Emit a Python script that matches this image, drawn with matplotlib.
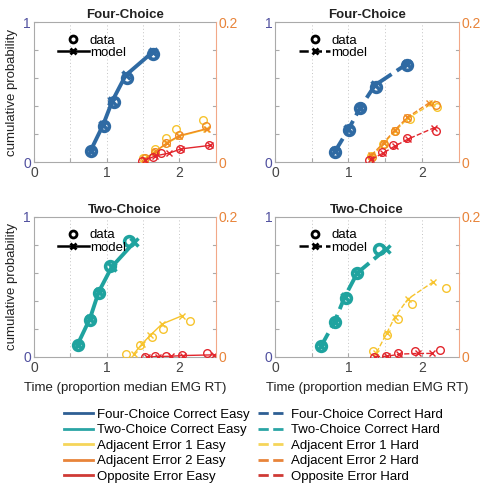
import matplotlib.pyplot as plt
from matplotlib.lines import Line2D

plt.rcParams['font.family'] = ['Liberation Sans', 'DejaVu Sans']

# colours
BLUE = '#2f6aa3'
TEAL = '#1fa39f'
YELLOW = '#f7c42e'
ORANGE = '#f08a22'
RED = '#e2262d'

# Four-Choice Easy (top left)
fe_cor_dx = [0.78, 0.96, 1.10, 1.28, 1.64]
fe_cor_dy = [0.083, 0.26, 0.43, 0.60, 0.77]
fe_cor_mx = [0.78, 0.95, 1.08, 1.26, 1.64]
fe_cor_my = [0.083, 0.265, 0.44, 0.62, 0.79]
fe_adj1_dx = [1.50, 1.66, 1.81, 1.95, 2.33]
fe_adj1_dy = [0.0067, 0.019, 0.034, 0.047, 0.060]
fe_adj1_mx = [1.51, 1.67, 1.83, 2.00, 2.37]
fe_adj1_my = [0.004, 0.015, 0.027, 0.037, 0.047]
fe_adj2_dx = [1.52, 1.67, 1.82, 1.99, 2.36]
fe_adj2_dy = [0.0057, 0.015, 0.028, 0.039, 0.051]
fe_adj2_mx = [1.52, 1.68, 1.83, 2.00, 2.38]
fe_adj2_my = [0.004, 0.016, 0.028, 0.038, 0.048]
fe_opp_dx = [1.48, 1.63, 1.75, 2.01, 2.40]
fe_opp_dy = [0.001, 0.008, 0.013, 0.019, 0.025]
fe_opp_mx = [1.53, 1.67, 1.86, 2.02, 2.42]
fe_opp_my = [0.003, 0.009, 0.013, 0.019, 0.024]

# Four-Choice Hard (top right)
fh_cor_dx = [0.82, 1.01, 1.16, 1.37, 1.79]
fh_cor_dy = [0.076, 0.23, 0.385, 0.54, 0.695]
fh_cor_mx = [0.82, 1.00, 1.16, 1.36, 1.79]
fh_cor_my = [0.08, 0.235, 0.39, 0.55, 0.70]
fh_adj1_dx = [1.31, 1.47, 1.63, 1.83, 2.20]
fh_adj1_dy = [0.009, 0.026, 0.045, 0.061, 0.079]
fh_adj1_mx = [1.32, 1.48, 1.63, 1.81, 2.14]
fh_adj1_my = [0.008, 0.027, 0.044, 0.063, 0.084]
fh_adj2_dx = [1.32, 1.48, 1.63, 1.80, 2.19]
fh_adj2_dy = [0.008, 0.026, 0.045, 0.063, 0.082]
fh_adj2_mx = [1.31, 1.48, 1.63, 1.80, 2.10]
fh_adj2_my = [0.010, 0.028, 0.046, 0.064, 0.085]
fh_opp_dx = [1.28, 1.45, 1.60, 1.79, 2.19]
fh_opp_dy = [0.003, 0.014, 0.025, 0.034, 0.045]
fh_opp_mx = [1.31, 1.47, 1.63, 1.81, 2.16]
fh_opp_my = [0.004, 0.013, 0.023, 0.033, 0.049]

# Two-Choice Easy (bottom left)
te_cor_dx = [0.60, 0.77, 0.89, 1.05, 1.31]
te_cor_dy = [0.088, 0.267, 0.457, 0.648, 0.826]
te_cor_mx = [0.60, 0.77, 0.89, 1.07, 1.38]
te_cor_my = [0.088, 0.274, 0.464, 0.643, 0.82]
te_adj1_dx = [1.26, 1.46, 1.62, 1.77, 2.15]
te_adj1_dy = [0.004, 0.017, 0.029, 0.040, 0.052]
te_adj1_mx = [1.37, 1.48, 1.60, 1.76, 2.04]
te_adj1_my = [0.004, 0.018, 0.031, 0.047, 0.059]
te_opp_dx = [1.52, 1.66, 1.82, 2.03, 2.38]
te_opp_dy = [0.0, 0.001, 0.002, 0.003, 0.005]
te_opp_mx = [1.55, 1.70, 1.88, 2.05, 2.48]
te_opp_my = [0.0, 0.0005, 0.001, 0.002, 0.003]

# Two-Choice Hard (bottom right)
th_cor_dx = [0.63, 0.82, 0.96, 1.11, 1.42]
th_cor_dy = [0.079, 0.25, 0.424, 0.60, 0.774]
th_cor_mx = [0.63, 0.81, 0.95, 1.12, 1.51]
th_cor_my = [0.079, 0.25, 0.43, 0.60, 0.77]
th_adj1_dx = [1.33, 1.53, 1.67, 1.87, 2.33]
th_adj1_dy = [0.009, 0.032, 0.054, 0.076, 0.099]
th_adj1_mx = [1.38, 1.52, 1.63, 1.81, 2.15]
th_adj1_my = [0.006, 0.034, 0.057, 0.083, 0.107]
th_opp_dx = [1.35, 1.51, 1.67, 1.91, 2.24]
th_opp_dy = [0.0, 0.001, 0.006, 0.008, 0.010]
th_opp_mx = [1.36, 1.53, 1.69, 1.94, 2.13]
th_opp_my = [0.0, 0.001, 0.004, 0.005, 0.005]

panels = [
    dict(title='Four-Choice', ls='-', cor_col=BLUE, pos=[0.070, 0.671, 0.376, 0.284],
         cor=(fe_cor_dx, fe_cor_dy, fe_cor_mx, fe_cor_my),
         err=[(YELLOW, fe_adj1_dx, fe_adj1_dy, fe_adj1_mx, fe_adj1_my),
              (ORANGE, fe_adj2_dx, fe_adj2_dy, fe_adj2_mx, fe_adj2_my),
              (RED, fe_opp_dx, fe_opp_dy, fe_opp_mx, fe_opp_my)]),
    dict(title='Four-Choice', ls='--', cor_col=BLUE, pos=[0.568, 0.671, 0.380, 0.284],
         cor=(fh_cor_dx, fh_cor_dy, fh_cor_mx, fh_cor_my),
         err=[(YELLOW, fh_adj1_dx, fh_adj1_dy, fh_adj1_mx, fh_adj1_my),
              (ORANGE, fh_adj2_dx, fh_adj2_dy, fh_adj2_mx, fh_adj2_my),
              (RED, fh_opp_dx, fh_opp_dy, fh_opp_mx, fh_opp_my)]),
    dict(title='Two-Choice', ls='-', cor_col=TEAL, pos=[0.070, 0.276, 0.376, 0.284],
         cor=(te_cor_dx, te_cor_dy, te_cor_mx, te_cor_my),
         err=[(YELLOW, te_adj1_dx, te_adj1_dy, te_adj1_mx, te_adj1_my),
              (RED, te_opp_dx, te_opp_dy, te_opp_mx, te_opp_my)]),
    dict(title='Two-Choice', ls='--', cor_col=TEAL, pos=[0.568, 0.276, 0.380, 0.284],
         cor=(th_cor_dx, th_cor_dy, th_cor_mx, th_cor_my),
         err=[(YELLOW, th_adj1_dx, th_adj1_dy, th_adj1_mx, th_adj1_my),
              (RED, th_opp_dx, th_opp_dy, th_opp_mx, th_opp_my)]),
]

fig = plt.figure(figsize=(4.84, 4.93), dpi=100)

for i, p in enumerate(panels):
    ax = fig.add_axes(p['pos'])
    ax2 = ax.twinx()
    dx, dy, mx, my = p['cor']
    ax.plot(mx, my, ls=p['ls'], color=p['cor_col'], lw=2.8, marker='x', ms=6, mew=2.5, zorder=3)
    ax.plot(dx, dy, ls='none', marker='o', ms=7, mfc='none', mec=p['cor_col'], mew=2.6, zorder=4)
    for col, edx, edy, emx, emy in p['err']:
        ax2.plot(emx, emy, ls=p['ls'], color=col, lw=1.0, marker='x', ms=5, mew=1.0)
        ax2.plot(edx, edy, ls='none', marker='o', ms=5.5, mfc='none', mec=col, mew=1.0)

    ax.set_xlim(0, 2.5)
    ax.set_ylim(0, 1)
    ax2.set_ylim(0, 0.2)
    ax.set_xticks([0, 0.5, 1, 1.5, 2])
    ax.set_xticklabels(['0', '', '1', '', '2'], color='#444444', fontsize=10)
    ax.set_yticks([0, 0.2, 0.4, 0.6, 0.8, 1])
    ax.set_yticklabels(['0', '', '', '', '', '1'], color='#50509f', fontsize=10)
    ax.tick_params(direction='in', length=3, color='#aaaaaa', pad=2)
    ax.tick_params(axis='x', pad=3)
    ax.xaxis.grid(True, ls=(0, (1, 2.5)), color='#c4c4c4', lw=0.7)
    ax2.set_yticks([0, 0.2])
    ax2.set_yticklabels(['0', '0.2'], color='#e8843a', fontsize=10)
    ax2.tick_params(direction='in', length=0, pad=2)
    for sp in ['left', 'top', 'bottom']:
        ax.spines[sp].set_color('#aaaaaa')
        ax2.spines[sp].set_visible(False)
    ax.spines['right'].set_visible(False)
    ax2.spines['right'].set_color('#f2a888')
    # mirror left ticks on the right side
    for yt in [0.2, 0.4, 0.6, 0.8]:
        ax.plot([2.46, 2.5], [yt, yt], color='#aaaaaa', lw=0.8, clip_on=False)
    ax.set_title(p['title'], fontsize=9.5, fontweight='bold', color='#222222', pad=3)

    handles = [Line2D([], [], ls='none', marker='o', mfc='none', mec='black', mew=2, ms=5),
               Line2D([], [], ls=p['ls'], color='black', lw=1.8, marker='x', mew=2, ms=5)]
    ax.legend(handles, ['data', 'model'], loc='upper left', bbox_to_anchor=(0.09, 0.97),
              frameon=False, fontsize=9.5, handlelength=2.3, handletextpad=0.1,
              labelspacing=0.0, borderaxespad=0.2)

    if i % 2 == 0:
        ax.set_ylabel('cumulative probability', fontsize=9.5, color='#222222', labelpad=4)
    if i >= 2:
        ax.set_xlabel('Time (proportion median EMG RT)', fontsize=9.5, color='#222222', labelpad=5)

# bottom legend
leg_names = ['Four-Choice Correct', 'Two-Choice Correct', 'Adjacent Error 1',
             'Adjacent Error 2', 'Opposite Error']
leg_cols = ['#2e5f94', '#2aa5a5', '#f5d55a', '#e8843a', '#cf3a35']
handles = []
labels = []
for cond, ls in [('Easy', '-'), ('Hard', '--')]:
    for name, col in zip(leg_names, leg_cols):
        handles.append(Line2D([], [], color=col, ls=ls, lw=2))
        labels.append(name + ' ' + cond)
fig.legend(handles, labels, loc='upper left', bbox_to_anchor=(0.122, 0.182), ncol=2,
           frameon=False, fontsize=9.5, handlelength=2.2, handletextpad=0.3,
           labelspacing=0.25, columnspacing=0.6, borderaxespad=0)

fig.savefig('out.png', dpi=100)
